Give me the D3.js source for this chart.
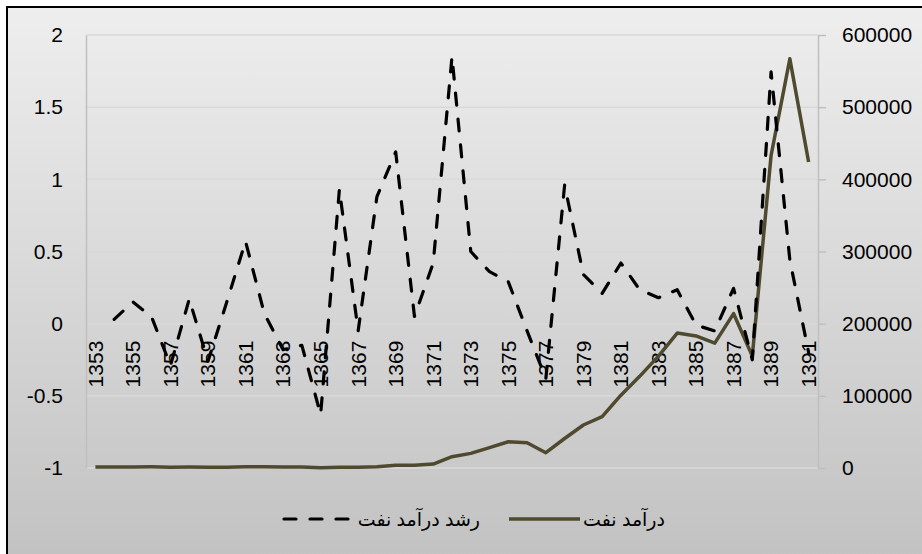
<!DOCTYPE html>
<html>
<head>
<meta charset="utf-8">
<script src="https://cdnjs.cloudflare.com/ajax/libs/d3/7.8.5/d3.min.js"></script>
<style>
  html, body { margin: 0; padding: 0; background: #fff; }
  svg { display: block; }
  text { font-family: "Liberation Sans", "DejaVu Sans", sans-serif; fill: #000; }
</style>
</head>
<body>
<div id="chart"></div>
<script>
'use strict';

// years (Iranian calendar)
var years = [1353, 1354, 1355, 1356, 1357, 1358, 1359, 1360, 1361, 1362,
             1363, 1364, 1365, 1366, 1367, 1368, 1369, 1370, 1371, 1372,
             1373, 1374, 1375, 1376, 1377, 1378, 1379, 1380, 1381, 1382,
             1383, 1384, 1385, 1386, 1387, 1388, 1389, 1390, 1391];

// growth of oil revenue (left axis), first year has no value
var growth = [null, 0.03, 0.15, 0.045, -0.29, 0.17, -0.26, 0.15, 0.57, 0.07,
              -0.18, -0.15, -0.63, 0.93, -0.05, 0.88, 1.19, 0.05, 0.42, 1.85,
              0.50, 0.36, 0.29, -0.05, -0.38, 0.96, 0.34, 0.21, 0.42, 0.235,
              0.18, 0.235, -0.01, -0.05, 0.245, -0.25, 1.745, 0.44, -0.2];

// oil revenue (right axis)
var revenue = [1300, 1330, 1530, 1600, 1130, 1330, 980, 1130, 1770, 1890,
               1550, 1320, 490, 940, 900, 1690, 3700, 3900, 5500, 15700,
               20300, 28300, 36400, 35000, 21200, 40900, 59600, 71100, 100900, 127000,
               155000, 187000, 183000, 173000, 214000, 155000, 433000, 567000, 424000];

var leftTicks = [-1, -0.5, 0, 0.5, 1, 1.5, 2];
var rightTicks = [0, 100000, 200000, 300000, 400000, 500000, 600000];
var xTickYears = years.filter(function (d, i) { return i % 2 === 0; });

var seriesNames = ['رشد درآمد نفت', 'درآمد نفت'];

var WIDTH = 922,
    HEIGHT = 554,
    PLOT_LEFT = 86,
    PLOT_RIGHT = 818,
    PLOT_TOP = 35,
    PLOT_BOTTOM = 468,
    FONT_SIZE = 21,
    LEGEND_FONT_SIZE = 19,
    DASH = '12,14',
    REVENUE_COLOR = '#4f4a2f';

function drawChart() {
  var svg = d3.select('#chart').append('svg')
        .attr('width', WIDTH)
        .attr('height', HEIGHT),
      defs = svg.append('defs'),
      grad,
      x, yLeft, yRight,
      cx,
      gLeft, gRight, gX,
      growthLine, revenueLine,
      legend;

  grad = defs.append('linearGradient')
    .attr('id', 'bg')
    .attr('x1', 0).attr('y1', 0).attr('x2', 0).attr('y2', 1);
  grad.append('stop').attr('offset', '0%').attr('stop-color', '#eeeeee');
  grad.append('stop').attr('offset', '100%').attr('stop-color', '#c1c1c1');

  // chart area with black frame
  svg.append('rect')
    .attr('x', 7).attr('y', 7)
    .attr('width', WIDTH + 10).attr('height', HEIGHT + 10)
    .attr('fill', 'url(#bg)')
    .attr('stroke', '#000')
    .attr('stroke-width', 2);

  x = d3.scaleBand().domain(years).range([PLOT_LEFT, PLOT_RIGHT]);
  yLeft = d3.scaleLinear().domain([-1, 2]).range([PLOT_BOTTOM, PLOT_TOP]);
  yRight = d3.scaleLinear().domain([0, 600000]).range([PLOT_BOTTOM, PLOT_TOP]);
  cx = function (year) { return x(year) + x.bandwidth() / 2; };

  // gridlines
  svg.append('g')
    .selectAll('line')
    .data(leftTicks)
    .enter()
      .append('line')
      .attr('x1', PLOT_LEFT)
      .attr('x2', PLOT_RIGHT)
      .attr('y1', function (d) { return yLeft(d); })
      .attr('y2', function (d) { return yLeft(d); })
      .attr('stroke', '#d9d9d9')
      .attr('stroke-width', 1.5);

  // left axis
  gLeft = svg.append('g')
    .attr('transform', 'translate(' + PLOT_LEFT + ',0)')
    .call(d3.axisLeft(yLeft)
      .tickValues(leftTicks)
      .tickSize(0)
      .tickPadding(23)
      .tickFormat(function (d) { return String(d); }));
  gLeft.select('.domain').attr('stroke', '#bfbfbf').attr('stroke-width', 1.5);
  gLeft.selectAll('text').style('font-size', FONT_SIZE + 'px').attr('font-family', null);

  // right axis
  gRight = svg.append('g')
    .attr('transform', 'translate(' + PLOT_RIGHT + ',0)')
    .call(d3.axisRight(yRight)
      .tickValues(rightTicks)
      .tickSize(8)
      .tickSizeOuter(0)
      .tickPadding(16)
      .tickFormat(function (d) { return String(d); }));
  gRight.select('.domain').attr('stroke', '#bfbfbf').attr('stroke-width', 1.5);
  gRight.selectAll('.tick line').attr('stroke', '#bfbfbf').attr('stroke-width', 1.5);
  gRight.selectAll('text').style('font-size', FONT_SIZE + 'px').attr('font-family', null);

  // category axis crossing at zero
  gX = svg.append('g')
    .attr('transform', 'translate(0,' + yLeft(0) + ')')
    .call(d3.axisBottom(x)
      .tickValues(xTickYears)
      .tickSize(0)
      .tickSizeOuter(0));
  gX.select('.domain').remove();
  gX.selectAll('text')
    .style('font-size', FONT_SIZE + 'px')
    .attr('font-family', null)
    .attr('text-anchor', 'end')
    .attr('transform', 'translate(0,17) rotate(-90)')
    .attr('x', 0)
    .attr('y', 0)
    .attr('dy', '0.35em');

  // series
  growthLine = d3.line()
    .defined(function (d) { return d !== null; })
    .x(function (d, i) { return cx(years[i]); })
    .y(function (d) { return yLeft(d); });

  revenueLine = d3.line()
    .x(function (d, i) { return cx(years[i]); })
    .y(function (d) { return yRight(d); });

  svg.append('path')
    .datum(revenue)
    .attr('d', revenueLine)
    .attr('fill', 'none')
    .attr('stroke', REVENUE_COLOR)
    .attr('stroke-width', 3.5)
    .attr('stroke-linejoin', 'round');

  svg.append('path')
    .datum(growth)
    .attr('d', growthLine)
    .attr('fill', 'none')
    .attr('stroke', '#000')
    .attr('stroke-width', 3.2)
    .attr('stroke-dasharray', DASH)
    .attr('stroke-linecap', 'round')
    .attr('stroke-linejoin', 'round');

  // legend
  legend = svg.append('g').attr('transform', 'translate(0,519)');

  legend.append('line')
    .attr('x1', 284).attr('x2', 354)
    .attr('stroke', '#000')
    .attr('stroke-width', 3.2)
    .attr('stroke-dasharray', DASH)
    .attr('stroke-linecap', 'round');
  legend.append('text')
    .attr('x', 480)
    .attr('dy', '0.35em')
    .attr('text-anchor', 'end')
    .style('font-size', LEGEND_FONT_SIZE + 'px')
    .text(seriesNames[0]);

  legend.append('line')
    .attr('x1', 509).attr('x2', 580)
    .attr('stroke', REVENUE_COLOR)
    .attr('stroke-width', 3.5);
  legend.append('text')
    .attr('x', 665)
    .attr('dy', '0.35em')
    .attr('text-anchor', 'end')
    .style('font-size', LEGEND_FONT_SIZE + 'px')
    .text(seriesNames[1]);
}

drawChart();
</script>
</body>
</html>
